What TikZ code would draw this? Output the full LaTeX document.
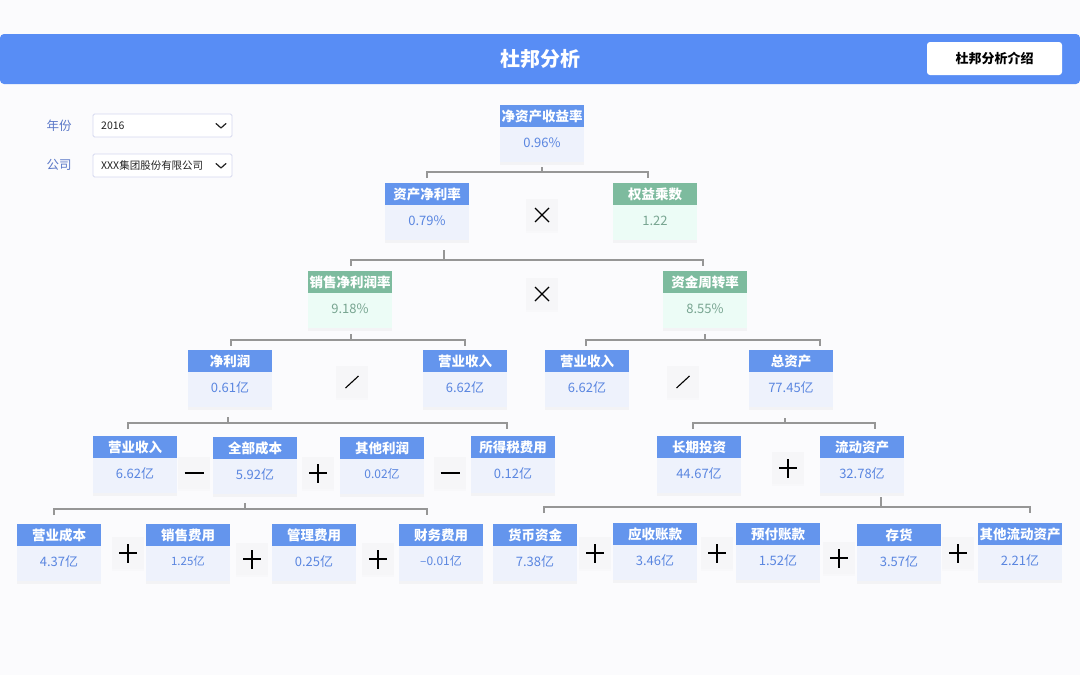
\documentclass[tikz,border=0pt]{standalone}
\usepackage{fontspec}
\setmainfont{Noto Sans CJK SC}
\usetikzlibrary{shadows,calc}
\definecolor{canvas}{RGB}{251,251,253}
\definecolor{headbar}{RGB}{88,141,245}
\definecolor{hb}{RGB}{100,149,237}
\definecolor{bb}{RGB}{238,242,252}
\definecolor{valb}{RGB}{90,134,224}
\definecolor{hg}{RGB}{125,187,158}
\definecolor{bg}{RGB}{236,252,246}
\definecolor{valg}{RGB}{120,165,145}
\definecolor{connc}{RGB}{150,150,150}
\definecolor{opfill}{RGB}{246,246,248}
\definecolor{labc}{RGB}{91,120,200}
\definecolor{ddline}{RGB}{213,216,239}
\definecolor{darktext}{RGB}{34,34,34}
\newcommand\kbox[7][13]{%
  \node[box#5,anchor=north] (#2) at (#3,#4) {};
  \node[head#5,anchor=north] (#2-h) at (#2.north) {#6};
  \node[val#5,font=\fontsize{#1}{#1}\selectfont] (#2-v) at ([yshift=-15pt]#2-h.south) {#7};
}
\newcommand\bus[8]{%
  \coordinate (bP) at ([xshift=#2pt,yshift=-#3pt]#1.south);
  \coordinate (bL) at ([xshift=#6pt]#5.north);
  \coordinate (bR) at ([xshift=#8pt]#7.north);
  \draw[conn] (bP) -- (bP |- 0,#4);
  \draw[conn] (bL |- 0,#4) ++(0,6) -- ++(0,-6) -- (bR |- 0,#4) -- ++(0,6);
}
\newcommand\opplus[3]{%
  \node[opbox] (#1) at (#2,#3) {};
  \draw[opline] ([xshift=-9pt]#1.center) -- ([xshift=9pt]#1.center)
                ([yshift=-9.5pt]#1.center) -- ([yshift=9.5pt]#1.center);
}
\newcommand\opminus[3]{%
  \node[opbox] (#1) at (#2,#3) {};
  \draw[opline] ([xshift=-9.5pt]#1.center) -- ([xshift=9.5pt]#1.center);
}
\newcommand\optimes[3]{%
  \node[opbox] (#1) at (#2,#3) {};
  \draw[opline] ([shift={(-7pt,-7pt)}]#1.center) -- ([shift={(7pt,7pt)}]#1.center)
                ([shift={(-7pt,7pt)}]#1.center) -- ([shift={(7pt,-7pt)}]#1.center);
}
\newcommand\opdiv[3]{%
  \node[opbox] (#1) at (#2,#3) {};
  \draw[opline] ([shift={(-6.5pt,-6pt)}]#1.center) -- ([shift={(6.5pt,6pt)}]#1.center);
}
\begin{document}
\begin{tikzpicture}[x=1pt,y=-1pt,
  boxb/.style={rectangle,fill=bb,minimum width=84pt,minimum height=57pt,inner sep=0pt,
    drop shadow={opacity=0.06,shadow xshift=0pt,shadow yshift=-3pt}},
  boxg/.style={boxb,fill=bg},
  headb/.style={rectangle,fill=hb,text=white,font=\bfseries\fontsize{13.5}{13.5}\selectfont,
    minimum width=84pt,minimum height=22pt,inner sep=0pt},
  headg/.style={headb,fill=hg},
  valb/.style={text=valb,inner sep=0pt},
  valg/.style={text=valg,inner sep=0pt},
  conn/.style={draw=connc,line width=1.2pt},
  opbox/.style={rectangle,fill=opfill,minimum width=32pt,minimum height=32pt,inner sep=0pt,
    drop shadow={opacity=0.025,shadow xshift=0pt,shadow yshift=-2pt}},
  opline/.style={draw=black,line width=1.1pt},
  title/.style={text=white,font=\bfseries\fontsize{20}{20}\selectfont,inner sep=0pt},
  button/.style={fill=white,rounded corners=3pt,minimum width=135pt,minimum height=33pt,
    inner sep=0pt,text=black,font=\bfseries\fontsize{13}{13}\selectfont},
  lab/.style={text=labc,font=\fontsize{12.5}{12.5}\selectfont,inner sep=0pt},
  dd/.style={draw=ddline,line width=0.8pt,fill=white,rounded corners=1.5pt,
    minimum width=139pt,minimum height=23pt,inner sep=0pt},
  ddtext/.style={text=darktext,font=\fontsize{10.5}{10.5}\selectfont,inner sep=0pt},
  chev/.style={draw=darktext,line width=1.2pt,line cap=round,line join=round}
]
\useasboundingbox (0,0) rectangle (1080,675);
\fill[canvas] (0,0) rectangle (1080,675);
% header bar
\fill[headbar,rounded corners=4pt] (0,34) rectangle (1080,84);
\node[title] (title) at (540,59) {杜邦分析};
\node[button] (btn) at (994.5,58.5) {杜邦分析介绍};
% filters
\node[lab] (yl) at (59,126) {年份};
\node[dd] (yd) at (162.5,125.5) {};
\node[ddtext,anchor=west] (ydt) at (101,126) {2016};
\draw[chev] (216,123.5) -- (221,128) -- (226,123.5);
\node[lab] (cl) at (59,165) {公司};
\node[dd] (cd) at (162.5,165.5) {};
\node[ddtext,anchor=west] (cdt) at (101,165.5) {XXX集团股份有限公司};
\draw[chev] (216,163.5) -- (221,168) -- (226,163.5);
% row 1
\kbox{roe}{542}{105}{b}{净资产收益率}{0.96\%}
% row 2
\kbox{roa}{427}{183}{b}{资产净利率}{0.79\%}
\kbox{em}{655}{183}{g}{权益乘数}{1.22}
\optimes{x1}{542}{215}
% row 3
\kbox{npm}{350}{271}{g}{销售净利润率}{9.18\%}
\kbox{tat}{705}{271}{g}{资金周转率}{8.55\%}
\optimes{x2}{542}{294}
% row 4
\kbox{np}{230}{350}{b}{净利润}{0.61亿}
\kbox{rev1}{465}{350}{b}{营业收入}{6.62亿}
\kbox{rev2}{587}{350}{b}{营业收入}{6.62亿}
\kbox{ta}{791}{350}{b}{总资产}{77.45亿}
\opdiv{d1}{352}{382}
\opdiv{d2}{683}{382}
% row 5
\kbox{rev3}{135}{436}{b}{营业收入}{6.62亿}
\kbox{tc}{255}{437}{b}{全部成本}{5.92亿}
\kbox[12]{op}{382}{437}{b}{其他利润}{0.02亿}
\kbox{tax}{513}{436}{b}{所得税费用}{0.12亿}
\kbox{lti}{699}{436}{b}{长期投资}{44.67亿}
\kbox{ca}{862}{436}{b}{流动资产}{32.78亿}
\opminus{m1}{194}{473}
\opplus{p1}{318}{473}
\opminus{m2}{450}{473}
\opplus{p2}{788}{468}
% row 6
\kbox{c1}{59}{524}{b}{营业成本}{4.37亿}
\kbox[11.5]{c2}{188}{524}{b}{销售费用}{1.25亿}
\kbox{c3}{314}{524}{b}{管理费用}{0.25亿}
\kbox[12]{c4}{441}{524}{b}{财务费用}{–0.01亿}
\kbox{a1}{535}{524}{b}{货币资金}{7.38亿}
\kbox{a2}{655}{523}{b}{应收账款}{3.46亿}
\kbox{a3}{778}{523}{b}{预付账款}{1.52亿}
\kbox{a4}{899}{524}{b}{存货}{3.57亿}
\kbox{a5}{1020}{523}{b}{其他流动资产}{2.21亿}
\opplus{p3}{128}{553}
\opplus{p4}{252}{559}
\opplus{p5}{378}{559}
\opplus{p6}{595}{553}
\opplus{p7}{717}{553}
\opplus{p8}{839}{558}
\opplus{p9}{958}{553}
% connectors
\bus{roe}{0}{5}{172}{roa}{0}{em}{-7}
\bus{roa}{17}{10}{260}{npm}{1}{tat}{-2}
\bus{npm}{1}{6}{340}{np}{1}{rev1}{0}
\bus{tat}{0}{6}{340}{rev2}{-1}{ta}{29}
\bus{np}{-2}{10}{423}{rev3}{-7}{tax}{-6}
\bus{ta}{-6}{11}{423}{lti}{-6}{ca}{13}
\bus{tc}{-10}{9}{509}{c1}{-5}{c4}{-14}
\bus{ca}{19}{4}{507}{a1}{9}{a5}{10}
\end{tikzpicture}
\end{document}
